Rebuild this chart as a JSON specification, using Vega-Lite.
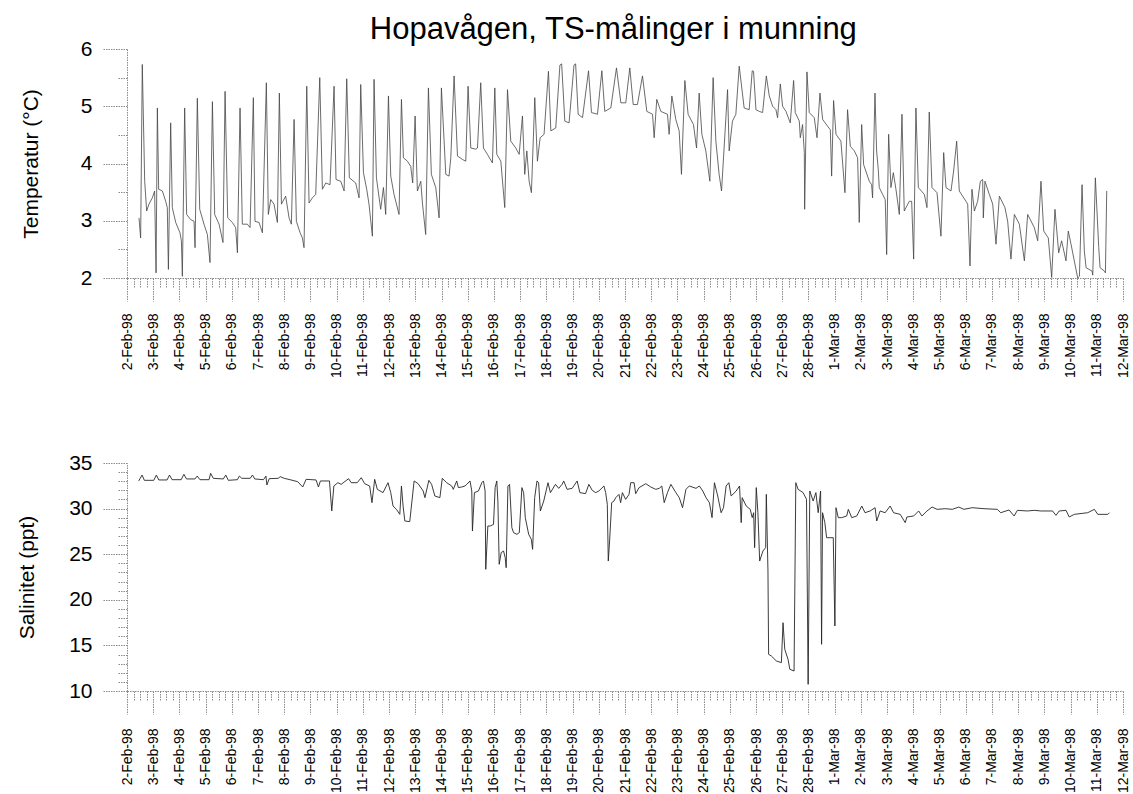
{
"$schema": "https://vega.github.io/schema/vega-lite/v6.json",
"background": "white",
"padding": {"left": 16, "top": 14, "right": 0, "bottom": 0},
"config": {
  "font": "Liberation Sans",
  "view": {"stroke": null},
  "axis": {"grid": false, "domainColor": "#8a8a8a", "domainDash": [1.5, 1], "tickColor": "#8a8a8a", "tickDash": [1.5, 1], "labelColor": "black", "titleColor": "black", "labelFont": "Liberation Sans", "titleFont": "Liberation Sans", "titleFontWeight": "normal"}
},
"title": {"text": "Hopavågen, TS-målinger i munning", "fontSize": 31, "fontWeight": "normal", "font": "Liberation Sans", "color": "black", "anchor": "middle", "offset": -8, "dx": 40},
"spacing": 74,
"datasets": {
"temp": [
{"h":11.0,"v":3.05},{"h":12.5,"v":2.70},{"h":14.0,"v":5.73},{"h":16.2,"v":3.69},{"h":18.0,"v":3.17},{"h":20.1,"v":3.29},{"h":23.2,"v":3.40},{"h":25.3,"v":3.52},{"h":26.6,"v":2.09},{"h":27.8,"v":4.97},{"h":29.0,"v":3.55},{"h":32.4,"v":3.52},{"h":35.4,"v":3.34},{"h":36.9,"v":3.23},{"h":37.9,"v":2.15},{"h":40.0,"v":4.71},{"h":41.5,"v":3.23},{"h":44.6,"v":2.97},{"h":48.5,"v":2.79},{"h":49.8,"v":2.65},{"h":50.7,"v":2.03},{"h":52.8,"v":4.97},{"h":54.6,"v":3.11},{"h":58.3,"v":3.02},{"h":61.4,"v":2.99},{"h":62.3,"v":2.53},{"h":64.4,"v":5.14},{"h":66.6,"v":3.20},{"h":70.5,"v":2.94},{"h":73.6,"v":2.76},{"h":76.0,"v":2.27},{"h":78.2,"v":5.08},{"h":80.3,"v":3.11},{"h":84.3,"v":2.94},{"h":87.9,"v":2.62},{"h":89.8,"v":5.26},{"h":92.2,"v":3.05},{"h":96.5,"v":2.97},{"h":99.5,"v":2.88},{"h":101.1,"v":2.44},{"h":103.5,"v":4.97},{"h":105.6,"v":2.94},{"h":110.2,"v":2.94},{"h":112.7,"v":2.88},{"h":115.7,"v":5.15},{"h":117.2,"v":2.99},{"h":120.9,"v":2.97},{"h":124.0,"v":2.79},{"h":127.6,"v":5.41},{"h":129.4,"v":3.11},{"h":131.6,"v":3.37},{"h":134.6,"v":3.29},{"h":137.7,"v":2.97},{"h":139.5,"v":5.23},{"h":141.4,"v":3.29},{"h":145.3,"v":3.43},{"h":148.4,"v":3.05},{"h":150.5,"v":2.94},{"h":153.0,"v":4.77},{"h":155.1,"v":2.99},{"h":158.5,"v":2.79},{"h":160.6,"v":2.70},{"h":162.1,"v":2.53},{"h":164.6,"v":5.35},{"h":166.7,"v":3.31},{"h":169.7,"v":3.40},{"h":172.8,"v":3.46},{"h":176.5,"v":5.50},{"h":178.9,"v":3.55},{"h":182.0,"v":3.66},{"h":185.9,"v":3.63},{"h":189.6,"v":5.35},{"h":191.4,"v":3.72},{"h":195.7,"v":3.69},{"h":198.8,"v":3.52},{"h":201.2,"v":5.48},{"h":203.6,"v":3.75},{"h":209.4,"v":3.66},{"h":212.5,"v":3.40},{"h":214.0,"v":5.38},{"h":216.5,"v":3.84},{"h":219.5,"v":3.55},{"h":221.6,"v":3.29},{"h":224.7,"v":2.73},{"h":226.2,"v":5.47},{"h":228.4,"v":3.75},{"h":232.3,"v":3.20},{"h":234.8,"v":3.58},{"h":236.9,"v":3.11},{"h":239.4,"v":5.18},{"h":241.5,"v":3.78},{"h":244.5,"v":3.46},{"h":249.1,"v":3.11},{"h":251.3,"v":5.12},{"h":253.1,"v":4.10},{"h":256.8,"v":4.04},{"h":259.8,"v":3.95},{"h":261.6,"v":3.66},{"h":263.8,"v":4.83},{"h":265.9,"v":3.52},{"h":269.0,"v":3.69},{"h":270.5,"v":3.31},{"h":273.5,"v":2.76},{"h":276.0,"v":5.32},{"h":278.7,"v":3.81},{"h":282.7,"v":3.58},{"h":285.8,"v":3.05},{"h":287.9,"v":5.32},
{"h":291.9,"v":3.81},{"h":294.9,"v":3.78},{"h":296.5,"v":4.10},{"h":299.5,"v":5.53},{"h":302.6,"v":4.13},{"h":307.2,"v":4.07},{"h":310.2,"v":4.04},{"h":312.3,"v":5.35},{"h":314.8,"v":4.27},{"h":319.4,"v":4.25},{"h":320.9,"v":4.27},{"h":323.9,"v":5.41},{"h":326.4,"v":4.27},{"h":330.0,"v":4.16},{"h":334.6,"v":4.01},{"h":336.8,"v":5.32},{"h":338.6,"v":4.16},{"h":342.3,"v":4.04},{"h":345.9,"v":3.23},{"h":348.4,"v":5.29},{"h":351.4,"v":4.39},{"h":356.0,"v":4.27},{"h":359.1,"v":4.16},{"h":362.1,"v":4.83},{"h":364.2,"v":3.81},{"h":366.1,"v":4.22},{"h":368.2,"v":3.69},{"h":370.3,"v":3.49},{"h":373.4,"v":5.15},{"h":375.8,"v":4.04},{"h":378.3,"v":4.45},{"h":381.9,"v":4.51},{"h":385.9,"v":5.61},{"h":388.1,"v":4.57},{"h":392.6,"v":4.62},{"h":396.4,"v":5.72},{"h":398.0,"v":5.74},{"h":400.9,"v":4.74},{"h":404.8,"v":4.71},{"h":409.3,"v":5.72},{"h":410.8,"v":5.74},{"h":413.1,"v":4.86},{"h":417.1,"v":4.80},{"h":422.6,"v":5.62},{"h":425.3,"v":4.89},{"h":430.8,"v":4.86},{"h":434.8,"v":5.62},{"h":437.5,"v":4.91},{"h":443.0,"v":4.97},{"h":448.2,"v":5.67},{"h":452.2,"v":5.06},{"h":456.7,"v":5.06},{"h":460.4,"v":5.67},{"h":463.5,"v":5.03},{"h":467.4,"v":5.03},{"h":472.0,"v":5.53},{"h":476.0,"v":4.91},{"h":481.2,"v":4.86},{"h":482.7,"v":4.45},{"h":485.1,"v":5.12},{"h":488.8,"v":4.91},{"h":494.9,"v":4.86},{"h":496.4,"v":4.51},{"h":498.9,"v":5.18},{"h":502.5,"v":4.77},{"h":505.6,"v":4.57},{"h":507.7,"v":3.81},{"h":510.8,"v":5.45},{"h":513.8,"v":4.86},{"h":518.7,"v":4.68},{"h":521.5,"v":4.27},{"h":523.9,"v":5.23},{"h":526.4,"v":4.51},{"h":530.0,"v":4.22},{"h":533.7,"v":3.69},{"h":536.7,"v":5.50},{"h":539.2,"v":4.39},{"h":542.2,"v":3.81},{"h":544.4,"v":3.52},{"h":549.9,"v":5.29},{"h":551.4,"v":4.22},{"h":554.4,"v":4.74},{"h":557.5,"v":4.86},{"h":560.6,"v":5.70},{"h":565.1,"v":4.97},{"h":569.7,"v":4.94},{"h":572.5,"v":5.62},
{"h":573.7,"v":5.61},{"h":575.9,"v":4.94},{"h":578.9,"v":4.91},{"h":582.0,"v":4.89},{"h":585.4,"v":5.53},{"h":588.1,"v":5.18},{"h":591.2,"v":5.00},{"h":594.2,"v":4.94},{"h":595.7,"v":4.80},{"h":598.2,"v":5.39},{"h":600.3,"v":5.00},{"h":603.4,"v":4.91},{"h":607.3,"v":4.71},{"h":610.4,"v":5.45},{"h":611.9,"v":4.89},{"h":615.6,"v":4.74},{"h":616.5,"v":4.45},{"h":618.6,"v":4.68},{"h":620.2,"v":4.19},{"h":620.5,"v":3.20},{"h":622.6,"v":5.60},{"h":624.7,"v":4.89},{"h":629.3,"v":4.80},{"h":631.8,"v":4.45},{"h":634.5,"v":5.23},{"h":637.0,"v":4.77},{"h":641.5,"v":4.65},{"h":644.0,"v":4.59},{"h":645.2,"v":3.78},{"h":647.0,"v":5.10},{"h":649.2,"v":4.51},{"h":653.7,"v":4.39},{"h":657.4,"v":3.49},{"h":659.8,"v":4.94},{"h":662.3,"v":4.30},{"h":666.0,"v":4.22},{"h":669.0,"v":4.10},{"h":670.5,"v":2.97},{"h":672.7,"v":4.68},{"h":674.5,"v":3.98},{"h":679.7,"v":3.69},{"h":681.8,"v":3.63},{"h":682.7,"v":3.40},{"h":684.9,"v":5.23},{"h":686.4,"v":4.22},{"h":687.9,"v":3.90},{"h":688.8,"v":3.58},{"h":691.9,"v":3.46},{"h":694.3,"v":3.37},{"h":695.6,"v":2.41},{"h":697.4,"v":4.51},{"h":699.5,"v":3.58},{"h":701.7,"v":3.84},{"h":704.1,"v":3.55},{"h":707.2,"v":3.11},{"h":709.6,"v":4.86},{"h":711.7,"v":3.17},{"h":716.3,"v":3.34},{"h":718.5,"v":3.34},{"h":720.3,"v":2.33},{"h":722.4,"v":4.97},{"h":724.6,"v":3.58},{"h":730.1,"v":3.46},{"h":732.5,"v":3.23},{"h":734.6,"v":4.90},{"h":737.1,"v":3.58},{"h":741.7,"v":3.49},{"h":745.3,"v":2.73},{"h":747.8,"v":4.19},{"h":749.9,"v":3.58},{"h":754.5,"v":3.52},{"h":756.9,"v":3.87},{"h":759.7,"v":4.39},{"h":762.1,"v":3.52},{"h":768.2,"v":3.34},{"h":769.8,"v":3.29},{"h":771.9,"v":2.21},{"h":773.7,"v":3.55},{"h":775.9,"v":3.17},{"h":778.9,"v":3.34},{"h":781.4,"v":3.69},{"h":783.5,"v":3.72},{"h":784.1,"v":3.05},{"h":785.6,"v":3.69},{"h":789.6,"v":3.46},{"h":792.7,"v":3.29},{"h":795.7,"v":2.59},{"h":798.8,"v":3.43},{"h":803.9,"v":3.23},{"h":806.4,"v":2.99},{"h":809.4,"v":2.33},{"h":812.5,"v":3.11},{"h":817.1,"v":2.94},{"h":821.7,"v":2.30},{"h":824.7,"v":3.11},{"h":830.8,"v":2.88},{"h":833.9,"v":2.65},{"h":836.9,"v":3.69},{"h":839.4,"v":2.82},{"h":843.6,"v":2.70},{"h":846.7,"v":2.01},{"h":849.7,"v":3.20},{"h":853.1,"v":2.44},{"h":855.8,"v":2.65},{"h":859.8,"v":2.30},{"h":861.9,"v":2.82},{"h":864.4,"v":2.59},{"h":870.5,"v":2.00},{"h":872.1,"v":2.03},{"h":874.5,"v":3.63},{"h":876.6,"v":2.47},{"h":878.2,"v":2.18},{"h":883.7,"v":2.12},{"h":884.3,"v":2.05},{"h":886.7,"v":3.75},{"h":889.8,"v":2.53},{"h":891.0,"v":2.18},{"h":895.0,"v":2.12},{"h":895.9,"v":2.09},{"h":897.1,"v":3.52}
],
"sal": [
{"h":10.7,"v":33.03},{"h":13.8,"v":33.68},{"h":15.9,"v":33.10},{"h":24.5,"v":33.10},{"h":26.9,"v":33.68},{"h":29.1,"v":33.14},{"h":36.7,"v":33.14},{"h":38.9,"v":33.68},{"h":41.3,"v":33.17},{"h":49.6,"v":33.17},{"h":52.1,"v":33.76},{"h":54.5,"v":33.25},{"h":62.2,"v":33.25},{"h":64.3,"v":33.57},{"h":66.8,"v":33.17},{"h":75.1,"v":33.17},{"h":76.6,"v":33.87},{"h":79.0,"v":33.32},{"h":88.2,"v":33.25},{"h":90.4,"v":33.68},{"h":92.8,"v":33.10},{"h":101.1,"v":33.17},{"h":102.9,"v":33.57},{"h":105.1,"v":33.32},{"h":112.8,"v":33.32},{"h":114.9,"v":33.68},{"h":117.0,"v":33.25},{"h":125.0,"v":33.17},{"h":127.2,"v":33.57},{"h":128.1,"v":32.59},{"h":130.2,"v":33.28},{"h":138.5,"v":33.32},{"h":140.3,"v":33.50},{"h":144.0,"v":33.32},{"h":150.2,"v":33.14},{"h":156.3,"v":32.95},{"h":160.9,"v":32.37},{"h":164.0,"v":33.21},{"h":173.1,"v":33.14},{"h":175.3,"v":32.37},{"h":177.1,"v":33.03},{"h":185.4,"v":33.03},{"h":187.5,"v":29.74},{"h":189.4,"v":32.48},{"h":193.1,"v":32.84},{"h":196.1,"v":32.66},{"h":202.9,"v":33.28},{"h":205.3,"v":32.84},{"h":210.8,"v":32.84},{"h":214.5,"v":33.39},{"h":217.6,"v":32.73},{"h":222.2,"v":32.48},{"h":224.3,"v":30.65},{"h":226.8,"v":33.21},{"h":229.2,"v":32.11},{"h":234.4,"v":31.75},{"h":239.0,"v":32.84},{"h":241.5,"v":31.75},{"h":243.6,"v":30.28},{"h":246.7,"v":29.92},{"h":249.8,"v":29.37},{"h":251.3,"v":32.48},{"h":252.8,"v":30.28},{"h":254.4,"v":28.64},{"h":258.9,"v":28.57},{"h":262.9,"v":33.03},{"h":266.6,"v":32.73},{"h":271.2,"v":31.93},{"h":272.8,"v":31.20},{"h":276.4,"v":33.10},{"h":278.9,"v":32.66},{"h":281.9,"v":31.38},{"h":286.5,"v":31.20},{"h":288.7,"v":33.32},{"h":292.7,"v":32.84},{"h":297.3,"v":32.48},{"h":298.8,"v":32.11},{"h":301.9,"v":33.03},
{"h":303.4,"v":32.30},{"h":306.5,"v":32.37},{"h":309.5,"v":32.48},{"h":311.1,"v":32.66},{"h":314.1,"v":33.03},{"h":315.7,"v":31.93},{"h":316.3,"v":27.54},{"h":318.1,"v":31.75},{"h":321.8,"v":31.93},{"h":324.9,"v":32.84},{"h":326.4,"v":33.03},{"h":327.9,"v":31.93},{"h":328.5,"v":23.34},{"h":330.4,"v":28.09},{"h":332.5,"v":28.09},{"h":335.6,"v":28.27},{"h":337.1,"v":32.30},{"h":338.6,"v":33.03},{"h":339.6,"v":30.83},{"h":340.8,"v":23.89},{"h":342.6,"v":25.17},{"h":344.8,"v":25.35},{"h":346.3,"v":24.62},{"h":347.2,"v":23.52},{"h":348.8,"v":32.48},{"h":350.3,"v":32.66},{"h":352.4,"v":27.91},{"h":354.0,"v":27.36},{"h":357.0,"v":27.18},{"h":359.2,"v":27.36},{"h":361.6,"v":32.30},{"h":363.2,"v":31.75},{"h":364.7,"v":29.01},{"h":367.8,"v":27.18},{"h":370.2,"v":26.63},{"h":371.4,"v":25.53},{"h":373.3,"v":31.20},{"h":375.4,"v":33.03},{"h":376.9,"v":32.84},{"h":378.5,"v":29.74},{"h":381.6,"v":30.83},{"h":385.5,"v":32.84},{"h":387.7,"v":31.75},{"h":392.3,"v":32.66},{"h":395.3,"v":32.22},{"h":398.4,"v":32.66},{"h":399.9,"v":33.03},{"h":403.0,"v":32.11},{"h":407.6,"v":32.22},{"h":412.2,"v":33.03},{"h":414.7,"v":31.75},{"h":419.9,"v":31.64},{"h":422.9,"v":32.66},{"h":426.0,"v":32.00},{"h":429.1,"v":31.75},{"h":432.1,"v":31.93},{"h":436.7,"v":32.48},{"h":438.3,"v":31.75},{"h":439.8,"v":30.47},{"h":440.7,"v":24.25},{"h":441.9,"v":26.45},{"h":443.8,"v":30.65},{"h":445.9,"v":30.83},{"h":447.5,"v":31.20},{"h":450.5,"v":31.56},{"h":452.0,"v":30.65},{"h":453.6,"v":31.75},{"h":456.6,"v":31.02},{"h":459.7,"v":31.56},{"h":461.2,"v":32.84},{"h":464.3,"v":32.84},{"h":465.8,"v":31.64},{"h":468.9,"v":32.30},{"h":475.0,"v":32.73},{"h":479.6,"v":32.37},{"h":484.2,"v":32.11},{"h":487.3,"v":32.22},{"h":489.7,"v":32.48},{"h":491.9,"v":30.65},{"h":494.9,"v":31.75},{"h":498.0,"v":32.66},{"h":502.6,"v":31.75},{"h":505.7,"v":31.20},{"h":508.7,"v":30.10},{"h":511.8,"v":32.11},{"h":514.9,"v":32.48},{"h":521.0,"v":32.22},
{"h":524.1,"v":32.48},{"h":527.2,"v":31.93},{"h":530.2,"v":31.20},{"h":533.3,"v":30.65},{"h":535.7,"v":29.01},{"h":537.9,"v":32.84},{"h":540.9,"v":31.38},{"h":544.0,"v":29.55},{"h":546.2,"v":30.10},{"h":548.6,"v":32.48},{"h":551.1,"v":32.84},{"h":553.2,"v":31.38},{"h":557.8,"v":31.93},{"h":560.9,"v":32.48},{"h":562.4,"v":28.46},{"h":563.3,"v":31.20},{"h":567.0,"v":30.28},{"h":570.7,"v":29.92},{"h":572.5,"v":29.01},{"h":573.8,"v":29.55},{"h":574.7,"v":25.72},{"h":576.2,"v":32.30},{"h":577.7,"v":29.55},{"h":579.3,"v":24.25},{"h":582.3,"v":25.35},{"h":584.8,"v":25.72},{"h":585.4,"v":31.56},{"h":586.9,"v":23.16},{"h":587.5,"v":14.02},{"h":590.0,"v":13.84},{"h":594.6,"v":13.29},{"h":599.2,"v":13.11},{"h":600.7,"v":17.49},{"h":602.3,"v":14.57},{"h":605.3,"v":13.47},{"h":606.9,"v":12.38},{"h":610.8,"v":12.19},{"h":612.4,"v":32.84},{"h":614.5,"v":32.11},{"h":619.1,"v":31.75},{"h":622.2,"v":31.02},{"h":623.7,"v":10.73},{"h":625.2,"v":31.93},{"h":628.3,"v":30.83},{"h":630.8,"v":31.75},{"h":632.9,"v":29.55},{"h":635.1,"v":31.93},{"h":636.0,"v":15.12},{"h":636.9,"v":29.55},{"h":639.0,"v":28.46},{"h":640.6,"v":26.81},{"h":643.6,"v":26.81},{"h":646.7,"v":26.81},{"h":648.2,"v":17.13},{"h":649.2,"v":30.10},{"h":651.3,"v":29.01},{"h":654.4,"v":29.01},{"h":659.0,"v":29.19},{"h":660.5,"v":29.92},{"h":663.6,"v":29.01},{"h":668.2,"v":29.19},{"h":672.8,"v":30.28},{"h":675.8,"v":29.55},{"h":680.4,"v":29.74},{"h":685.0,"v":30.10},{"h":686.5,"v":28.64},{"h":689.6,"v":29.74},{"h":694.2,"v":29.55},{"h":698.8,"v":30.28},{"h":701.9,"v":29.55},{"h":708.0,"v":29.37},{"h":712.6,"v":28.46},{"h":714.1,"v":29.08},{"h":720.3,"v":29.19},{"h":724.9,"v":29.74},{"h":727.9,"v":29.19},{"h":732.5,"v":29.74},
{"h":737.2,"v":30.17},{"h":741.8,"v":29.92},{"h":749.4,"v":29.99},{"h":755.6,"v":29.92},{"h":761.7,"v":30.17},{"h":766.3,"v":29.92},{"h":773.9,"v":30.10},{"h":784.7,"v":29.99},{"h":796.9,"v":29.92},{"h":800.0,"v":29.55},{"h":807.7,"v":29.85},{"h":812.3,"v":29.19},{"h":815.3,"v":29.81},{"h":824.5,"v":29.74},{"h":830.7,"v":29.81},{"h":836.8,"v":29.74},{"h":847.5,"v":29.74},{"h":850.6,"v":29.26},{"h":853.6,"v":29.74},{"h":859.8,"v":29.81},{"h":862.8,"v":29.08},{"h":867.4,"v":29.37},{"h":879.7,"v":29.55},{"h":885.8,"v":29.92},{"h":888.9,"v":29.37},{"h":898.1,"v":29.37},{"h":899.6,"v":29.55}
]
},
"vconcat": [
{
  "width": 996, "height": 229,
  "data": {"name": "temp"},
  "mark": {"type": "line", "color": "#454545", "strokeWidth": 0.8},
  "encoding": {
    "x": {"field": "h", "type": "quantitative", "scale": {"domain": [0, 912], "nice": false, "zero": false},
      "axis": {"title": null, "values": [0,6,12,18,24,30,36,42,48,54,60,66,72,78,84,90,96,102,108,114,120,126,132,138,144,150,156,162,168,174,180,186,192,198,204,210,216,222,228,234,240,246,252,258,264,270,276,282,288,294,300,306,312,318,324,330,336,342,348,354,360,366,372,378,384,390,396,402,408,414,420,426,432,438,444,450,456,462,468,474,480,486,492,498,504,510,516,522,528,534,540,546,552,558,564,570,576,582,588,594,600,606,612,618,624,630,636,642,648,654,660,666,672,678,684,690,696,702,708,714,720,726,732,738,744,750,756,762,768,774,780,786,792,798,804,810,816,822,828,834,840,846,852,858,864,870,876,882,888,894,900,906,912],
        "labelExpr": "datum.value % 24 == 0 ? timeFormat(datetime(1998, 1, 2 + datum.value / 24), '%-d-%b-%y') : ''",
        "labelAngle": 270, "labelFontSize": 14, "labelOverlap": false, "labelFlush": false, "labelBound": false, "labelPadding": 12,
        "tickSize": {"condition": {"test": "datum.value % 24 == 0", "value": 23}, "value": 9}}},
    "y": {"field": "v", "type": "quantitative", "scale": {"domain": [2, 6], "nice": false, "zero": false},
      "axis": {"title": "Temperatur (°C)", "titleFontSize": 21, "titlePadding": 39, "values": [2,2.5,3,3.5,4,4.5,5,5.5,6],
        "labelExpr": "datum.value % 1 == 0 ? format(datum.value, 'd') : ''", "labelFontSize": 21, "labelPadding": 10, "labelOverlap": false,
        "tickSize": {"condition": {"test": "datum.value % 1 == 0", "value": 25}, "value": 10}}}
  }
},
{
  "width": 996, "height": 228,
  "data": {"name": "sal"},
  "mark": {"type": "line", "color": "#262626", "strokeWidth": 0.9},
  "encoding": {
    "x": {"field": "h", "type": "quantitative", "scale": {"domain": [0, 912], "nice": false, "zero": false},
      "axis": {"title": null, "values": [0,6,12,18,24,30,36,42,48,54,60,66,72,78,84,90,96,102,108,114,120,126,132,138,144,150,156,162,168,174,180,186,192,198,204,210,216,222,228,234,240,246,252,258,264,270,276,282,288,294,300,306,312,318,324,330,336,342,348,354,360,366,372,378,384,390,396,402,408,414,420,426,432,438,444,450,456,462,468,474,480,486,492,498,504,510,516,522,528,534,540,546,552,558,564,570,576,582,588,594,600,606,612,618,624,630,636,642,648,654,660,666,672,678,684,690,696,702,708,714,720,726,732,738,744,750,756,762,768,774,780,786,792,798,804,810,816,822,828,834,840,846,852,858,864,870,876,882,888,894,900,906,912],
        "labelExpr": "datum.value % 24 == 0 ? timeFormat(datetime(1998, 1, 2 + datum.value / 24), '%-d-%b-%y') : ''",
        "labelAngle": 270, "labelFontSize": 14, "labelOverlap": false, "labelFlush": false, "labelBound": false, "labelPadding": 14,
        "tickSize": {"condition": {"test": "datum.value % 24 == 0", "value": 23}, "value": 10}}},
    "y": {"field": "v", "type": "quantitative", "scale": {"domain": [10, 35], "nice": false, "zero": false},
      "axis": {"title": "Salinitet (ppt)", "titleFontSize": 21, "titlePadding": 31, "values": [10,11,12,13,14,15,16,17,18,19,20,21,22,23,24,25,26,27,28,29,30,31,32,33,34,35],
        "labelExpr": "datum.value % 5 == 0 ? format(datum.value, 'd') : ''", "labelFontSize": 21, "labelPadding": 10, "labelOverlap": false,
        "tickSize": {"condition": {"test": "datum.value % 5 == 0", "value": 25}, "value": 10}}}
  }
}
]
}
